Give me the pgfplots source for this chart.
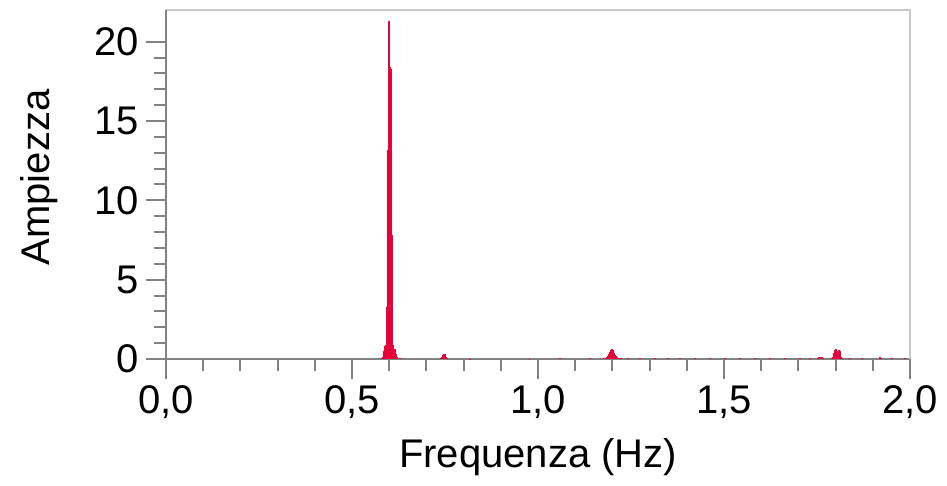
\documentclass[border=0pt]{standalone}
\usepackage{fontspec}
\setmainfont{Liberation Sans}
\usepackage{pgfplots}
\pgfplotsset{compat=1.18}
\definecolor{specred}{RGB}{232,0,58}
\definecolor{axgray}{RGB}{130,130,130}
\definecolor{boxgray}{RGB}{200,200,200}
\begin{document}
\begin{tikzpicture}
\begin{axis}[
  width=372pt, height=174.5pt, scale only axis,
  xmin=0, xmax=2, ymin=0, ymax=22,
  axis lines=left,
  axis line style={-, axgray, line width=1pt},
  tick style={axgray, line width=1pt},
  tick align=outside,
  major tick length=10pt, minor tick length=6pt,
  xtick={0,0.5,1,1.5,2}, ytick={0,5,10,15,20},
  minor x tick num=4, minor y tick num=4,
  xticklabel style={/pgf/number format/.cd, use comma, fixed, fixed zerofill, precision=1},
  /pgf/number format/assume math mode=true,
  tick label style={font=\fontsize{20}{24}\selectfont},
  label style={font=\fontsize{20}{24}\selectfont},
  xlabel={Frequenza (Hz)},
  ylabel={Ampiezza},
  xlabel style={at={(axis description cs:0.5,-0.28)}, anchor=center},
  ylabel style={at={(axis description cs:-0.17,0.52)}, anchor=center},
  clip=false,
]
\addplot[ycomb, specred, line width=0.6pt, mark=none] coordinates {
(0.0,0) (0.5806,0.05) (0.5833,0.15) (0.5860,0.5) (0.5887,0.8) (0.5914,0.9)
(0.5941,3.3) (0.5968,13.2) (0.5995,21.3) (0.6022,18.4) (0.6048,18.3)
(0.6075,7.8) (0.6102,0.9) (0.6129,0.4) (0.6156,0.6) (0.6183,0.3) (0.6210,0.1) (0.6290,0.05)
(0.7392,0.05) (0.7419,0.12) (0.7446,0.25) (0.7473,0.33) (0.7500,0.3) (0.7527,0.15) (0.7554,0.05)
(0.817,0.03) (0.978,0.03) (1.059,0.04) (1.140,0.05) (1.167,0.05) (1.177,0.08)
(1.1828,0.08) (1.1855,0.12) (1.1882,0.2) (1.1909,0.3) (1.1935,0.45) (1.1962,0.58)
(1.1989,0.62) (1.2016,0.55) (1.2043,0.4) (1.2070,0.28) (1.2097,0.18) (1.2124,0.1)
(1.2177,0.06) (1.2231,0.05)
(1.2419,0.05) (1.2742,0.04) (1.3145,0.05) (1.3495,0.04) (1.3817,0.05) (1.4220,0.04)
(1.4624,0.05) (1.5027,0.04) (1.5430,0.05) (1.5833,0.04) (1.6237,0.05) (1.6640,0.04)
(1.7043,0.06) (1.7312,0.05)
(1.7527,0.08) (1.7554,0.12) (1.7581,0.15) (1.7608,0.15) (1.7634,0.1) (1.7661,0.05)
(1.7903,0.08) (1.7930,0.15) (1.7957,0.35) (1.7984,0.55) (1.8011,0.62) (1.8038,0.35)
(1.8065,0.5) (1.8091,0.55) (1.8118,0.5) (1.8145,0.15) (1.8172,0.05)
(1.8387,0.05) (1.8710,0.05) (1.9194,0.1) (1.9220,0.08) (1.9516,0.04) (1.9866,0.04) (2.0,0)
};
\draw[boxgray, line width=1pt] (rel axis cs:0,1) -- (rel axis cs:1,1) -- (rel axis cs:1,0);
\draw[axgray, line width=1pt] (rel axis cs:0,0) -- (rel axis cs:0,1);
\end{axis}
\pgfresetboundingbox
\path (-83pt,-63.5pt) rectangle (390.5pt,179.5pt);
\end{tikzpicture}
\end{document}
